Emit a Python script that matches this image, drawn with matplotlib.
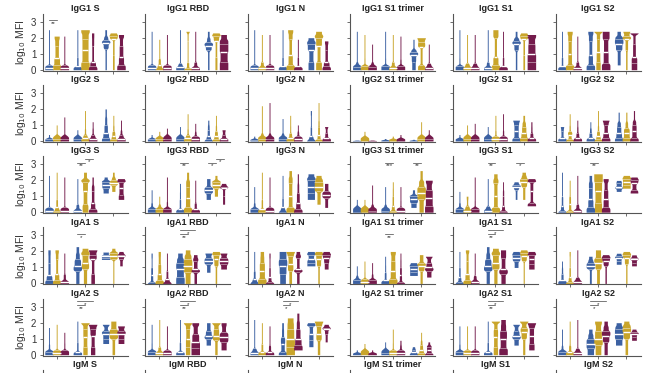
import numpy as np
import matplotlib.pyplot as plt

plt.rcParams['font.family'] = ['Liberation Sans', 'DejaVu Sans']

isotypes = ["IgG1", "IgG2", "IgG3", "IgA1", "IgA2", "IgM"]
antigens = ["S", "RBD", "N", "S1 trimer", "S1", "S2"]
colors = ["#3c61a2", "#c9a52b", "#741b4c"]
# share of samples between successive quantile points
quantile_fracs = [0.25, 0.25, 0.25, 0.15, 0.10]

# each violin: [min, q25, median, q75, q90, max] of log10 MFI
# 9 violins per panel: 3 groups x (blue, gold, purple)
igg1 = [
    [[0, .02, .1, .3, 1.0, 2.5], [0, .3, .75, 1.5, 1.9, 2.1], [0, .02, .1, .3, 1.0, 2.1],
     [0, .05, .2, .8, 1.6, 2.5], [0, .5, 1.2, 1.9, 2.3, 2.5], [0, .2, .5, 1.5, 2.0, 2.3],
     [0, 1.3, 1.65, 1.85, 2.1, 2.5], [0, .9, 1.9, 2.1, 2.2, 2.3], [0, .3, .8, 1.5, 2.0, 2.2]],
    [[0, .02, .1, .3, 1.0, 2.4], [0, .05, .3, .7, 1.3, 1.9], [0, .02, .1, .3, 1.0, 2.2],
     [0, .02, .15, .4, 1.2, 2.5], [0, .1, .5, 1.8, 2.3, 2.4], [0, .02, .1, .5, 1.3, 2.4],
     [0, 1.2, 1.5, 1.7, 2.0, 2.4], [0, .8, 1.8, 2.1, 2.2, 2.3], [0, .5, 1.1, 1.6, 1.9, 2.2]],
    [[0, .02, .1, .3, 1.0, 2.5], [0, .02, .1, .5, 1.4, 2.2], [0, .02, .1, .3, 1.0, 2.2],
     [0, .05, .2, .8, 1.5, 2.5], [0, .3, .9, 1.9, 2.3, 2.5], [0, .05, .2, .8, 1.5, 1.9],
     [0, .5, 1.2, 1.6, 1.8, 2.0], [0, .5, 1.5, 2.0, 2.2, 2.4], [0, .2, .5, 1.2, 1.6, 1.8]],
    [[0, .01, .05, .15, .5, 2.4], [0, .01, .05, .2, .8, 2.2], [0, .01, .05, .15, .5, 1.6],
     [0, .01, .05, .2, .8, 2.4], [0, .02, .1, .5, 1.5, 2.2], [0, .01, .05, .2, .7, 2.1],
     [0, .5, .9, 1.1, 1.3, 1.9], [0, .3, 1.4, 1.7, 1.9, 2.0], [0, .02, .1, .4, 1.0, 1.6]],
    [[0, .01, .05, .2, .8, 2.5], [0, .02, .1, .4, 1.2, 2.2], [0, .02, .1, .4, 1.0, 2.2],
     [0, .02, .1, .5, 1.5, 2.5], [0, .3, .8, 2.0, 2.3, 2.5], [0, .05, .2, .8, 1.6, 2.4],
     [0, 1.2, 1.6, 1.8, 2.0, 2.4], [0, .9, 1.9, 2.1, 2.2, 2.3], [0, .5, 1.0, 1.6, 2.0, 2.2]],
    [[0, .05, .2, .8, 1.6, 2.4], [0, .3, 1.0, 1.8, 2.2, 2.4], [0, .02, .1, .5, 1.3, 2.1],
     [0, .3, .9, 1.8, 2.2, 2.4], [0, .5, 1.1, 1.9, 2.3, 2.4], [0, .4, 1.1, 1.9, 2.2, 2.4],
     [.3, 1.2, 1.6, 1.9, 2.1, 2.4], [0, 1.2, 1.9, 2.1, 2.3, 2.4], [0, .4, .8, 1.6, 2.2, 2.3]],
]
igg2 = [
    [[0, .01, .05, .1, .2, .4], [0, .01, .05, .1, .3, 1.0], [0, .01, .05, .15, .4, 1.5],
     [0, .01, .05, .1, .3, .7], [0, .05, .2, .4, .8, 1.9], [0, .05, .15, .4, .8, 1.2],
     [0, .2, .5, 1.0, 1.5, 2.0], [0, .1, .3, .6, 1.0, 1.6], [0, .05, .15, .4, .7, 1.3]],
    [[0, .01, .05, .1, .2, .4], [0, .01, .05, .1, .3, .6], [0, .01, .05, .1, .3, .8],
     [0, .01, .05, .1, .3, .9], [0, .05, .2, .4, .8, 1.7], [0, .02, .1, .3, .6, 1.1],
     [0, .1, .3, .7, 1.0, 1.3], [0, .1, .3, .6, 1.0, 1.6], [0, .05, .15, .4, .6, .7]],
    [[0, .01, .03, .08, .15, .3], [0, .01, .05, .15, .5, 2.2], [0, .01, .05, .15, .5, 2.4],
     [0, .01, .05, .15, .5, 1.4], [0, .05, .2, .5, 1.0, 1.6], [0, .02, .1, .3, .6, 1.0],
     [0, .05, .3, .9, 1.6, 1.9], [0, .1, .4, .9, 1.3, 2.4], [0, .05, .2, .5, .8, .9]],
    [[0, 0, .01, .02, .03, .05], [0, 0, .01, .02, .05, .6], [0, 0, .01, .02, .03, .05],
     [0, 0, .01, .02, .05, .15], [0, 0, .01, .03, .1, .3], [0, 0, .01, .03, .1, .4],
     [0, 0, .01, .02, .05, .1], [0, .01, .05, .15, .4, 1.2], [0, .01, .03, .1, .3, .7]],
    [[0, 0, .02, .05, .15, .4], [0, .01, .05, .1, .4, 1.0], [0, .01, .05, .1, .4, 1.1],
     [0, .01, .05, .1, .3, .9], [0, .02, .1, .3, .7, 1.6], [0, .02, .1, .3, .7, 1.7],
     [0, .2, .6, 1.0, 1.2, 1.3], [0, .2, .5, .9, 1.2, 1.6], [0, .05, .2, .5, .9, 1.2]],
    [[0, .05, .2, .6, .8, .9], [0, .1, .4, .6, 1.0, 1.7], [0, .05, .2, .5, .9, 1.3],
     [0, .05, .2, .5, .8, 1.2], [0, .1, .3, .6, 1.0, 1.9], [0, .2, .5, 1.0, 1.2, 1.3],
     [0, .2, .5, .9, 1.2, 1.8], [0, .2, .5, .8, 1.2, 1.8], [0, .2, .6, 1.0, 1.3, 1.9]],
]
igg3 = [
    [[0, .02, .1, .3, 1.0, 2.3], [0, .1, .3, .8, 1.5, 2.5], [0, .02, .1, .3, 1.0, 2.2],
     [0, .02, .1, .5, 1.3, 2.1], [0, .5, 1.3, 1.9, 2.1, 2.5], [0, .2, .6, 1.3, 1.7, 2.2],
     [1.2, 1.5, 1.7, 1.9, 2.0, 2.2], [1.3, 1.7, 1.85, 2.0, 2.2, 2.5], [.8, 1.1, 1.5, 1.9, 2.0, 2.1]],
    [[0, .01, .05, .2, .6, 1.4], [0, .01, .05, .2, .5, 1.0], [0, .01, .05, .2, .7, 2.2],
     [0, .05, .2, .8, 1.3, 1.8], [0, .3, .9, 1.6, 2.0, 2.5], [0, .05, .2, .6, 1.2, 2.0],
     [.8, 1.2, 1.4, 1.6, 1.9, 2.1], [1.0, 1.5, 1.7, 1.9, 2.0, 2.3], [.5, 1.0, 1.5, 1.6, 1.7, 1.75]],
    [[0, .01, .05, .2, .6, 1.6], [0, .05, .2, .8, 1.6, 2.5], [0, .02, .1, .3, 1.0, 2.2],
     [0, .05, .3, .9, 1.5, 2.3], [0, .3, 1.0, 1.8, 2.2, 2.6], [0, .2, .6, 1.2, 1.8, 2.4],
     [.8, 1.2, 1.6, 2.0, 2.2, 2.4], [.5, 1.3, 1.6, 1.9, 2.1, 2.3], [.3, .9, 1.1, 1.3, 1.6, 1.8]],
    [[0, 0, .02, .05, .2, .8], [0, 0, .02, .05, .3, .8], [0, .01, .03, .1, .5, 1.7],
     [0, .01, .03, .1, .5, 1.6], [0, .1, .4, 1.0, 1.5, 1.9], [0, .02, .1, .3, .8, 1.6],
     [.3, .6, .8, 1.0, 1.1, 1.4], [0, .8, 1.2, 1.6, 2.0, 2.6], [0, .4, .9, 1.4, 1.8, 2.0]],
    [[0, .01, .05, .2, .6, 1.3], [0, .02, .1, .4, .8, 1.0], [0, .01, .05, .2, .8, 2.2],
     [0, .02, .1, .4, 1.2, 2.1], [0, .3, 1.0, 1.8, 2.1, 2.4], [0, .1, .4, 1.0, 1.4, 1.9],
     [.8, 1.4, 1.6, 1.7, 1.8, 1.85], [.8, 1.6, 1.9, 2.1, 2.3, 2.5], [.4, .6, 1.3, 1.9, 2.0, 2.05]],
    [[0, .1, .4, 1.0, 1.8, 2.5], [0, .1, .5, 1.0, 1.6, 2.0], [0, .02, .1, .5, 1.2, 2.3],
     [0, .3, .8, 1.5, 1.9, 2.3], [0, .6, 1.3, 1.9, 2.2, 2.4], [0, .3, .8, 1.4, 1.9, 2.1],
     [1.3, 1.5, 1.6, 1.8, 1.9, 1.95], [1.5, 1.7, 1.9, 2.1, 2.2, 2.3], [1.2, 1.4, 1.8, 2.0, 2.1, 2.2]],
]
iga1 = [
    [[0, .2, .5, 1.3, 1.8, 2.1], [0, .2, .6, 1.5, 1.9, 2.1], [0, .02, .1, .6, 1.3, 1.9],
     [0, .8, 1.1, 1.5, 1.9, 2.3], [0, .9, 1.3, 1.8, 2.0, 2.2], [0, .6, 1.5, 1.8, 2.0, 2.1],
     [1.5, 1.6, 1.7, 1.8, 1.9, 1.95], [0, 1.5, 1.7, 1.9, 2.0, 2.2], [1.1, 1.5, 1.7, 1.8, 1.9, 2.0]],
    [[0, .1, .5, 1.0, 1.6, 1.9], [0, .2, .6, 1.2, 1.7, 2.0], [0, .05, .3, .8, 1.4, 1.9],
     [0, .4, .9, 1.3, 1.6, 1.9], [0, .7, 1.1, 1.5, 1.8, 2.1], [0, .7, .9, 1.4, 1.6, 1.8],
     [.7, 1.2, 1.4, 1.6, 1.8, 1.9], [0, 1.1, 1.5, 1.8, 1.9, 1.95], [.9, 1.2, 1.4, 1.6, 1.8, 1.9]],
    [[0, .05, .3, .8, 1.5, 2.0], [0, .3, .8, 1.3, 1.7, 2.0], [0, .1, .4, 1.0, 1.6, 1.9],
     [0, .6, 1.1, 1.5, 1.8, 2.0], [0, .8, 1.2, 1.7, 1.9, 2.0], [0, .7, .9, 1.6, 1.8, 2.0],
     [1.1, 1.3, 1.5, 1.8, 1.9, 1.95], [0, 1.1, 1.5, 1.8, 1.9, 2.0], [.9, 1.3, 1.6, 1.8, 1.85, 1.9]],
    [[0, .01, .05, .2, .5, 1.1], [0, .02, .1, .3, .8, 1.4], [0, .01, .05, .2, .6, 1.3],
     [0, .05, .2, .7, 1.2, 1.7], [0, .3, .8, 1.4, 1.8, 2.0], [0, .1, .5, 1.0, 1.5, 1.9],
     [.5, .7, .9, 1.1, 1.2, 1.3], [0, .8, 1.1, 1.3, 1.6, 1.8], [.4, .8, 1.0, 1.3, 1.6, 1.7]],
    [[0, .1, .4, 1.0, 1.6, 2.0], [0, .2, .6, 1.4, 1.9, 2.1], [0, .02, .1, .5, 1.2, 1.9],
     [0, .8, 1.1, 1.5, 1.9, 2.3], [0, .9, 1.3, 1.8, 2.0, 2.2], [0, .6, .9, 1.6, 1.9, 2.1],
     [1.0, 1.4, 1.6, 1.8, 1.9, 1.95], [0, 1.4, 1.7, 1.9, 2.0, 2.1], [.9, 1.2, 1.5, 1.8, 1.9, 2.0]],
    [[0, .05, .2, .6, 1.0, 1.4], [0, .1, .4, 1.0, 1.7, 2.0], [0, .02, .1, .4, 1.2, 2.1],
     [0, .9, 1.1, 1.3, 1.5, 1.7], [0, .9, 1.3, 1.6, 1.9, 2.1], [0, 1.1, 1.4, 1.6, 1.7, 1.75],
     [1.2, 1.4, 1.6, 1.7, 1.8, 1.85], [0, 1.2, 1.6, 1.8, 1.9, 1.95], [1.1, 1.3, 1.5, 1.6, 1.7, 1.75]],
]
iga2 = [
    [[0, .01, .05, .2, .7, 1.7], [0, .02, .1, .3, .9, 1.9], [0, .01, .05, .3, .8, 1.4],
     [0, .05, .2, .8, 1.4, 2.1], [0, .5, 1.1, 1.6, 1.9, 1.95], [0, .5, 1.2, 1.6, 1.8, 1.85],
     [.7, 1.0, 1.3, 1.5, 1.8, 1.9], [0, 1.0, 1.3, 1.6, 1.9, 2.1], [.7, 1.0, 1.3, 1.5, 1.7, 1.8]],
    [[0, .01, .05, .2, .8, 1.9], [0, .02, .1, .5, 1.4, 2.2], [0, .02, .1, .3, .9, 1.8],
     [0, .05, .2, .8, 1.6, 2.2], [0, .5, 1.0, 1.6, 1.9, 2.0], [0, .4, .8, 1.3, 1.8, 2.0],
     [.6, 1.0, 1.2, 1.5, 1.8, 2.0], [0, .9, 1.2, 1.6, 1.9, 2.0], [.3, .8, 1.1, 1.4, 1.8, 2.0]],
    [[0, .02, .1, .4, 1.0, 2.2], [0, .05, .2, .7, 1.4, 2.0], [0, .05, .2, .6, 1.2, 1.8],
     [0, .2, .7, 1.1, 1.6, 2.0], [0, .5, 1.0, 1.6, 2.0, 2.3], [.3, .6, 1.0, 1.6, 2.1, 2.6],
     [.5, .9, 1.3, 1.8, 1.9, 2.0], [0, .9, 1.3, 1.8, 2.0, 2.1], [.8, 1.3, 1.6, 1.7, 1.75, 1.8]],
    [[0, 0, .02, .05, .1, .3], [0, 0, .02, .05, .2, .7], [0, 0, .02, .05, .1, .3],
     [0, .01, .03, .1, .3, .8], [0, .02, .1, .3, .8, 1.6], [0, .02, .1, .3, .6, .9],
     [0, .05, .15, .3, .4, .5], [0, .1, .3, .6, .9, 1.4], [0, .1, .3, .5, .6, .8]],
    [[0, .01, .05, .2, .7, 1.8], [0, .02, .1, .3, .9, 1.8], [0, .02, .1, .3, .9, 1.8],
     [0, .05, .2, .8, 1.5, 2.1], [0, .5, 1.1, 1.6, 2.0, 2.1], [0, .4, 1.0, 1.5, 1.9, 2.2],
     [.6, 1.0, 1.2, 1.5, 1.8, 1.9], [0, 1.0, 1.4, 1.7, 2.0, 2.1], [.3, .7, 1.2, 1.7, 1.9, 2.0]],
    [[0, .01, .05, .2, .6, 1.6], [0, .05, .2, .6, 1.2, 2.1], [0, .02, .1, .4, 1.1, 2.2],
     [0, .4, .7, 1.0, 1.3, 1.6], [0, .6, 1.0, 1.5, 1.9, 2.1], [0, .8, 1.2, 1.5, 1.8, 2.1],
     [.6, 1.0, 1.3, 1.6, 1.8, 2.0], [0, 1.0, 1.4, 1.7, 1.9, 2.1], [.9, 1.1, 1.3, 1.4, 1.5, 1.6]],
]
panel_data = [igg1, igg2, igg3, iga1, iga2, None]

# significance marks: (row, col, violin a, violin b, level, label)
sig_marks = [
    (0, 0, 0, 1, 0, "**"),
    (2, 0, 3, 4, 0, "**"), (2, 0, 4, 5, 1, "*"),
    (2, 1, 3, 4, 0, "**"), (2, 1, 6, 7, 0, "*"), (2, 1, 7, 8, 1, "*"),
    (2, 3, 3, 4, 0, "***"), (2, 3, 6, 7, 0, "**"),
    (2, 4, 3, 4, 0, "**"), (2, 4, 6, 7, 0, "*"),
    (2, 5, 3, 4, 0, "**"),
    (3, 0, 3, 4, 0, "*"),
    (3, 1, 3, 4, 0, "**"), (3, 1, 3, 5, 1, "*"),
    (3, 3, 3, 4, 0, "**"),
    (3, 4, 3, 4, 0, "**"), (3, 4, 3, 5, 1, "*"),
    (4, 0, 3, 4, 0, "**"), (4, 0, 3, 5, 1, "*"),
    (4, 1, 3, 4, 0, "**"), (4, 1, 3, 5, 1, "*"),
    (4, 2, 3, 4, 0, "*"), (4, 2, 3, 5, 1, "*"),
    (4, 4, 3, 4, 0, "**"), (4, 4, 3, 5, 1, "*"),
    (4, 5, 3, 4, 0, "*"), (4, 5, 3, 5, 1, "*"),
]

offsets = [-0.27, 0.0, 0.27]
half_w = 0.15


def violin_pos(i):
    return i // 3 + offsets[i % 3]


def violin_profile(q):
    # piecewise density between quantiles, lightly smoothed like a kde
    min_step = min(0.1, (q[-1] - q[0]) / 8 + 0.005)
    edges = [q[0]]
    for v in q[1:]:
        edges.append(max(v, edges[-1] + min_step))
    edges = np.array(edges)
    ys = np.linspace(edges[0], edges[-1], 90)
    idx = np.clip(np.searchsorted(edges, ys, side="right") - 1, 0, 4)
    dens = np.array(quantile_fracs) / np.diff(edges)
    d = dens[idx]
    step = ys[1] - ys[0]
    sig = max(0.05 * min(1, (edges[-1] - edges[0]) / 0.8), step)
    n = int(min(30, max(1, 3 * sig / step)))
    t = np.arange(-n, n + 1) * step
    k = np.exp(-0.5 * (t / sig) ** 2)
    sm = np.convolve(d, k, "same") / np.convolve(np.ones_like(d), k, "same")
    w = np.maximum(half_w * sm / sm.max(), 0.016)
    return ys, w


def draw_violin(ax, x, q, color):
    ys, w = violin_profile(q)
    ax.fill_betweenx(ys, x - w, x + w, color=color, lw=0)
    for val, lw, a in [(q[1], 0.5, 0.6), (q[3], 0.5, 0.6), (q[2], 1.0, 1.0)]:
        if val - ys[0] < 0.08:
            continue
        wk = np.interp(val, ys, w)
        ax.hlines(val, x - wk, x + wk, color="white", lw=lw, alpha=a)


fig = plt.figure(figsize=(6.5, 3.73), dpi=100)
W, H = 650, 373
for r in range(6):
    zero_y = 69.7 + 71.25 * r
    for c in range(6):
        left = 42.5 + 102.6 * c
        ax = fig.add_axes([left / W, 1 - (zero_y + 0.8) / H, 85 / W, 56.8 / H])
        ax.set_xlim(-0.5, 2.5)
        ax.set_ylim(-0.05, 3.5)
        for s in ["top", "right"]:
            ax.spines[s].set_visible(False)
        for s in ["left", "bottom"]:
            ax.spines[s].set_color("#555555")
            ax.spines[s].set_linewidth(0.8)
        ax.set_xticks([0, 1, 2])
        ax.set_xticklabels([])
        ax.set_yticks([0, 1, 2, 3])
        ax.tick_params(length=2.5, width=0.6, color="#555555", labelsize=7,
                       labelcolor="#333333", pad=2)
        if c == 0 and panel_data[r] is not None:
            ax.set_ylabel("log$_{10}$ MFI", fontsize=7.5, color="#333333", labelpad=2)
        else:
            ax.set_yticklabels([])
        ax.set_title(isotypes[r] + " " + antigens[c], fontsize=6.5, fontweight="bold",
                     color="#222222", pad=2)
        if panel_data[r] is None:
            continue
        for i, q in enumerate(panel_data[r][c]):
            draw_violin(ax, violin_pos(i), q, colors[i % 3])
        for (rr, cc, a, b, lev, lab) in sig_marks:
            if rr != r or cc != c:
                continue
            y = 3.1 + 0.25 * lev
            x1, x2 = violin_pos(a), violin_pos(b)
            ax.plot([x1, x2], [y, y], color="#444444", lw=0.5)
            ax.text((x1 + x2) / 2, y - 0.05, lab, fontsize=4.5, ha="center", va="top",
                    color="#333333")

fig.savefig("out.png", dpi=100)
